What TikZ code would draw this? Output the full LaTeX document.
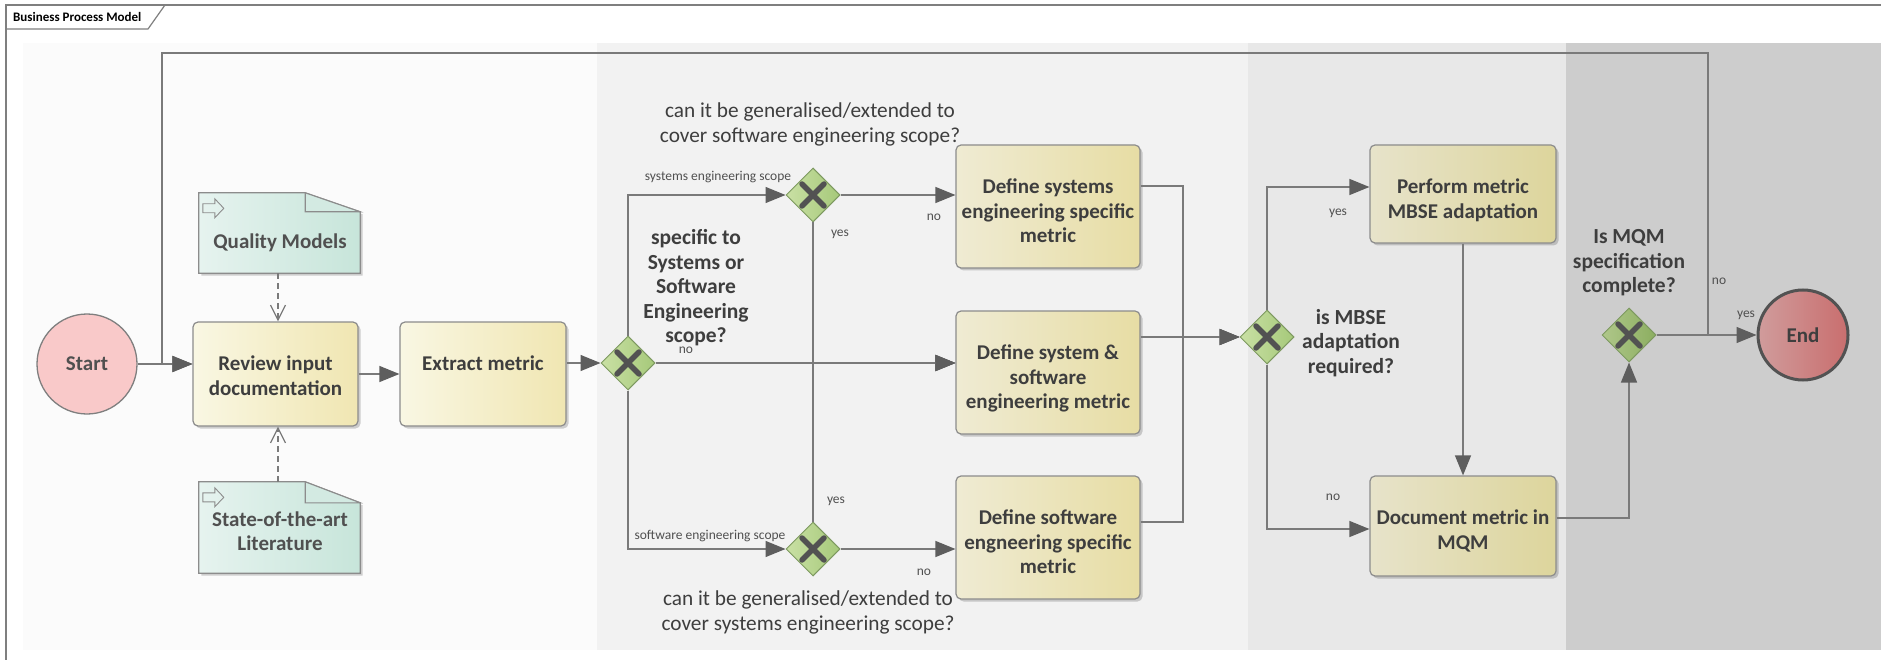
\documentclass[tikz,border=0pt]{standalone}
\usepackage{fontspec}
\setmainfont{Carlito}
\usetikzlibrary{arrows.meta,shapes.geometric,shadows,calc}

\definecolor{frameC}{HTML}{7F7F7F}
\definecolor{laneA}{HTML}{FBFBFB}
\definecolor{laneB}{HTML}{F2F2F2}
\definecolor{laneC}{HTML}{E8E8E8}
\definecolor{laneD}{HTML}{CDCDCD}
\definecolor{lineC}{HTML}{7A7A7A}
\definecolor{tipC}{HTML}{5E5E5E}
\definecolor{txtC}{HTML}{3E3E3E}
\definecolor{lblC}{HTML}{505050}
\definecolor{boxLa}{HTML}{F9F7E3}
\definecolor{boxRa}{HTML}{F0E6B2}
\definecolor{boxLb}{HTML}{EFEBD3}
\definecolor{boxRb}{HTML}{E7DDA4}
\definecolor{boxLc}{HTML}{E7E3CA}
\definecolor{boxRc}{HTML}{DDD59C}
\definecolor{boxB}{HTML}{8C8C8C}
\definecolor{gwL}{HTML}{C9E0A4}
\definecolor{gwR}{HTML}{A6C97A}
\definecolor{gwLd}{HTML}{AFC78A}
\definecolor{gwRd}{HTML}{8CAE60}
\definecolor{gwB}{HTML}{7D9960}
\definecolor{xC}{HTML}{525252}
\definecolor{noteL}{HTML}{E6F3EF}
\definecolor{noteR}{HTML}{C7E5DA}
\definecolor{noteF}{HTML}{D3EAE2}
\definecolor{startF}{HTML}{F9C9C9}
\definecolor{endL}{HTML}{D09C9C}
\definecolor{endM}{HTML}{D4A6A6}
\definecolor{endR}{HTML}{C96E6E}

\tikzset{
  act/.style={draw=boxB, line width=1.2pt, rounded corners=5pt, inner sep=0pt,
    drop shadow={shadow xshift=2.5pt, shadow yshift=-2.5pt, fill=black, opacity=0.18}},
  actA/.style={act, left color=boxLa, right color=boxRa},
  actB/.style={act, left color=boxLb, right color=boxRb},
  actC/.style={act, left color=boxLc, right color=boxRc},
  acttext/.style={anchor=north, align=center, text=txtC, inner sep=0pt,
    font=\fontsize{21}{24.5}\selectfont\bfseries},
  gw/.style={shape=diamond, aspect=1, minimum width=54pt, minimum height=54pt,
    inner sep=0pt, draw=gwB, line width=1pt, left color=gwL, right color=gwR},
  gwd/.style={gw, left color=gwLd, right color=gwRd},
  xmark/.style={draw=xC, line width=5.5pt, line cap=round},
  flow/.style={draw=lineC, line width=1.3pt,
    -{Triangle[length=20pt,width=16pt,color=tipC,fill=tipC]}},
  dep/.style={draw=lineC, line width=1.2pt, dash pattern=on 6pt off 4pt,
    -{Straight Barb[length=15pt,width=15pt]}},
  lbl/.style={font=\fontsize{13.5}{15}\selectfont, text=lblC, inner sep=0pt},
  qb/.style={font=\fontsize{21.5}{24.5}\selectfont\bfseries, align=center, text=txtC, inner sep=0pt},
  qr/.style={font=\fontsize{21.3}{25}\selectfont, align=center, text=txtC, inner sep=0pt},
  notebase/.style={inner sep=0pt},
  notefill/.style={draw=boxB, line width=1.2pt, left color=noteL, right color=noteR,
    drop shadow={shadow xshift=2.5pt, shadow yshift=-2.5pt, fill=black, opacity=0.18}},
  notetext/.style={align=center, text=lblC, inner sep=0pt,
    font=\fontsize{21}{24.5}\selectfont\bfseries},
}

\newcommand\gwX[1]{\draw[xmark] ([shift={(-11,-11)}]#1.center) -- ([shift={(11,11)}]#1.center)
  ([shift={(-11,11)}]#1.center) -- ([shift={(11,-11)}]#1.center);}
\newcommand\noteIcon[1]{\draw[boxB, line width=0.9pt] ($(#1.north west)+(4,11)$) -- ++(12,0) -- ++(0,-5)
  -- ++(9,9.5) -- ++(-9,9.5) -- ++(0,-5) -- ++(-12,0) -- cycle;}

\begin{document}
\begin{tikzpicture}[x=1pt,y=-1pt]
\useasboundingbox (0,0) rectangle (1881,660);
\fill[white] (0,0) rectangle (1881,660);

% lanes
\fill[laneA] (23,43) rectangle (597,650);
\fill[laneB] (597,43) rectangle (1248,650);
\fill[laneC] (1248,43) rectangle (1566,650);
\fill[laneD] (1566,43) rectangle (1881,650);

% frame
\draw[frameC, line width=1.5pt] (6,660) -- (6,5) -- (1881,5);
\draw[frameC, line width=1.2pt] (6,29) -- (148,29) -- (165,5);
\node[anchor=west, inner sep=0pt, font=\fontsize{13}{15}\selectfont\bfseries] (title) at (13,17) {Business Process Model};

% start / end
\node[circle, minimum size=100pt, inner sep=0pt, fill=startF, draw=frameC, line width=1.3pt,
  text=lblC, font=\fontsize{21}{24}\selectfont\bfseries] (start) at (87,364) {Start};
\node[circle, minimum size=90pt, inner sep=0pt, left color=endL, middle color=endM, right color=endR,
  draw=xC, line width=3pt, text=txtC, font=\fontsize{21}{24}\selectfont\bfseries] (end) at (1803,335) {End};

% activities
\node[actA, minimum width=165pt, minimum height=104pt] (review) at (275.5,374) {};
\node[acttext] (reviewT) at (275.5,356) {Review input\\documentation};
\node[actA, minimum width=166pt, minimum height=104pt] (extract) at (483,374) {};
\node[acttext] (extractT) at (483,356) {Extract metric};

\node[actB, minimum width=184pt, minimum height=123pt] (box1) at (1048,206.5) {};
\node[acttext] (box1T) at (1048,179) {Define systems\\engineering specific\\metric};
\node[actB, minimum width=184pt, minimum height=123pt] (box2) at (1048,372.5) {};
\node[acttext] (box2T) at (1048,345) {Define system \&\\software\\engineering metric};
\node[actB, minimum width=184pt, minimum height=123pt] (box3) at (1048,537.5) {};
\node[acttext] (box3T) at (1048,510) {Define software\\engneering specific\\metric};

\node[actC, minimum width=186pt, minimum height=98pt] (perform) at (1463,194) {};
\node[acttext] (performT) at (1463,179) {Perform metric\\MBSE adaptation};
\node[actC, minimum width=186pt, minimum height=100pt] (document) at (1463,526) {};
\node[acttext] (documentT) at (1463,510) {Document metric in\\MQM};

% notes
\node[notebase, minimum width=161pt, minimum height=80pt] (qm) at (279.5,233) {};
\path[notefill] (qm.north west) -- ($(qm.north east)+(-55,0)$) -- ($(qm.north east)+(0,19)$)
  -- (qm.south east) -- (qm.south west) -- cycle;
\filldraw[draw=boxB, line width=1.1pt, fill=noteF] ($(qm.north east)+(-55,0)$) -- ($(qm.north east)+(-55,19)$) -- ($(qm.north east)+(0,19)$) -- cycle;
\noteIcon{qm}
\node[notetext] (qmT) at (280,243) {Quality Models};

\node[notebase, minimum width=161pt, minimum height=91pt] (lit) at (279.5,527.5) {};
\path[notefill] (lit.north west) -- ($(lit.north east)+(-55,0)$) -- ($(lit.north east)+(0,21)$)
  -- (lit.south east) -- (lit.south west) -- cycle;
\filldraw[draw=boxB, line width=1.1pt, fill=noteF] ($(lit.north east)+(-55,0)$) -- ($(lit.north east)+(-55,21)$) -- ($(lit.north east)+(0,21)$) -- cycle;
\noteIcon{lit}
\node[notetext] (litT) at (280,531) {State-of-the-art\\Literature};

% gateways
\node[gw] (g1) at (628,363) {};
\node[gw] (g2) at (813,195) {};
\node[gw] (g4) at (813,549) {};
\node[gw] (g5) at (1267,337) {};
\node[gwd] (g6) at (1629,335) {};
\gwX{g1}\gwX{g2}\gwX{g4}\gwX{g5}\gwX{g6}

% question texts
\node[qr] (q1) at (810,124.5) {can it be generalised/extended to\\cover software engineering scope?};
\node[qr] (q2) at (808,612.5) {can it be generalised/extended to\\cover systems engineering scope?};
\node[qb] (q3) at (696,288) {specific to\\Systems or\\Software\\Engineering\\scope?};
\node[qb] (q4) at (1351,343) {is MBSE\\adaptation\\required?};
\node[qb] (q5) at (1629,263) {Is MQM\\specification\\complete?};

% connectors
\coordinate (loopA) at (1708,335);
\coordinate (loopB) at (1708,53);
\coordinate (loopC) at (162,53);
\coordinate (loopD) at (162,364);
\coordinate (mx) at (1183,337);

\draw[flow] (start.east) -- (start.east -| review.west);
\draw[flow] (g6.east) -- (loopA) -- (loopB) -- (loopC) -- (loopD) -- (start.east -| review.west);
\draw[flow] (g6.east) -- (end.west);
\draw[dep] (qm.south -| 278,0) -- (review.north -| 278,0);
\draw[dep] (lit.north -| 278,0) -- (review.south -| 278,0);
\draw[flow] (review.east) -- (extract.west);
\draw[flow] (g1.west -| extract.east) -- (g1.west);
\draw[flow] (g1.north) |- (g2.west);
\draw[flow] (g1.south) |- (g4.west);
\draw[flow] (g1.east) -- (g1.east -| box2.west);
\draw[flow] (g2.east) -- (g2.east -| box1.west);
\draw[flow] (g2.south) |- (g1.east -| box2.west);
\draw[flow] (g4.north) |- (g1.east -| box2.west);
\draw[flow] (g4.east) -- (g4.east -| box3.west);
\draw[flow] ($(box1.east)+(0,-20.5)$) -| (mx) -- (g5.west);
\draw[flow] (g5.west -| box2.east) -- (g5.west);
\draw[flow] ($(box3.east)+(0,-15.5)$) -| (mx) -- (g5.west);
\draw[flow] (g5.north) |- ($(perform.west)+(0,-7)$);
\draw[flow] (g5.south) |- ($(document.west)+(0,3)$);
\draw[flow] (perform.south) -- (document.north);
\draw[flow] ($(document.east)+(0,-8)$) -| (g6.south);

% labels
\node[lbl] (l1) at (718,177) {systems engineering scope};
\node[lbl] (l2) at (710,536) {software engineering scope};
\node[lbl] (l3) at (686,350) {no};
\node[lbl] (l4) at (934,217) {no};
\node[lbl] (l5) at (840,234) {yes};
\node[lbl] (l6) at (836,501) {yes};
\node[lbl] (l7) at (924,572) {no};
\node[lbl] (l8) at (1338,213) {yes};
\node[lbl] (l9) at (1333,497) {no};
\node[lbl] (l10) at (1719,281) {no};
\node[lbl] (l11) at (1746,315) {yes};
\end{tikzpicture}
\end{document}
